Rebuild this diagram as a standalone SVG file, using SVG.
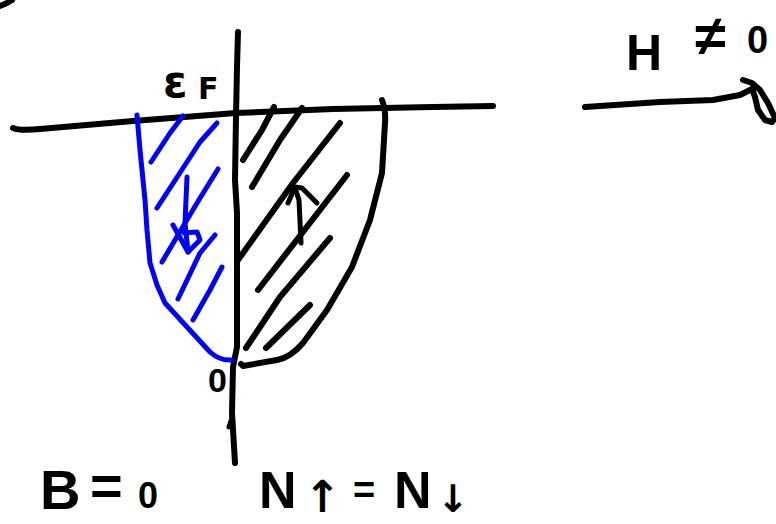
<svg xmlns="http://www.w3.org/2000/svg" width="776" height="524" viewBox="0 0 776 524">
<style>
.k{fill:none;stroke:#000;stroke-width:6;stroke-linecap:round;stroke-linejoin:round}
.b{fill:none;stroke:#0000ff;stroke-width:5;stroke-linecap:round;stroke-linejoin:round}
.t{font-family:"Liberation Sans","DejaVu Sans",sans-serif;font-weight:bold;fill:#000}
.s{font-family:"DejaVu Sans","Liberation Sans",sans-serif;font-weight:bold;fill:#000}
</style>
<rect width="776" height="524" fill="#fff"/>
<path class="k" d="M0,6 Q6,4 12,0"/>
<g id="axes">
<path class="k" d="M13,128 Q20,131 40,129 L133,121 L236,113 L333,109 L433,107 L493,106"/>
<path class="k" d="M238,32 L237,67 L236,117 L235,180 L237,213 L237,263 L237,347 L233,367 L232,413 L235,463"/>
<path class="k" d="M232,418 L229,427" style="stroke-width:5"/>
</g>
<g id="spin-down-band">
<path class="b" d="M137,115 L140,150 L145,200 L147,230 L150,263 L157,285 L165,303 L187,327 L210,352 Q220,361 232,360"/>
<path class="b" d="M183,116 L170,133 L151,162"/>
<path class="b" d="M217,123 L200,142 L157,208"/>
<path class="b" d="M218,169 L197,203 L162,262"/>
<path class="b" d="M215,235 L200,253 L178,299"/>
<path class="b" d="M222,267 L210,290 L193,320"/>
<path class="b" d="M187,177 L185,223 L188,252"/>
<path class="b" d="M173,225 L188,252 L200,240 L197,232 L184,233"/>
</g>
<g id="spin-up-band">
<path class="k" d="M382,100 Q386,110 385,123 L382,173 L370,220 L352,267 L327,310 L303,343 Q290,358 277,360 L243,366 L241,364"/>
<path class="k" d="M274,107 L262,130 L243,160"/>
<path class="k" d="M302,108 L280,140 L252,187"/>
<path class="k" d="M340,123 L293,183 L238,260"/>
<path class="k" d="M347,175 L258,290"/>
<path class="k" d="M330,238 L280,297 L246,348"/>
<path class="k" d="M310,305 L266,348"/>
<path class="k" d="M301,243 L299,200 L295,188" style="stroke-width:5"/>
<path class="k" d="M288,203 L295,187 L302,188 L317,203" style="stroke-width:5"/>
</g>
<g id="field-arrow">
<path class="k" d="M585,107 L660,102 L713,100 L740,95 L752,89"/>
<path class="k" d="M743,80 L752,83 L760,90 L768,103 L775,118 L772,122 L765,120 L758,110 L755,97 L752,89"/>
</g>
<g id="labels">
<text class="s" font-size="44"><tspan x="163" y="97">ε</tspan><tspan x="198" y="99" font-size="30">F</tspan></text>
<text class="t" x="208" y="392" font-size="34">0</text>
<text class="t" font-size="50"><tspan x="626" y="70">H</tspan> <tspan x="695" y="55" font-size="56">≠</tspan> <tspan x="747" y="53" font-size="38">0</tspan></text>
<text class="t" font-size="56"><tspan x="40" y="509">B</tspan> <tspan x="90" y="505" font-size="56">=</tspan> <tspan x="138" y="508" font-size="36">0</tspan></text>
<text class="t" font-size="52"><tspan x="259" y="508">N</tspan><tspan class="s" x="304" y="512" font-size="44">↑</tspan> <tspan x="353" y="503" font-size="38">=</tspan> <tspan x="394" y="508">N</tspan><tspan class="s" x="437" y="512" font-size="38">↓</tspan></text>
</g>
</svg>
